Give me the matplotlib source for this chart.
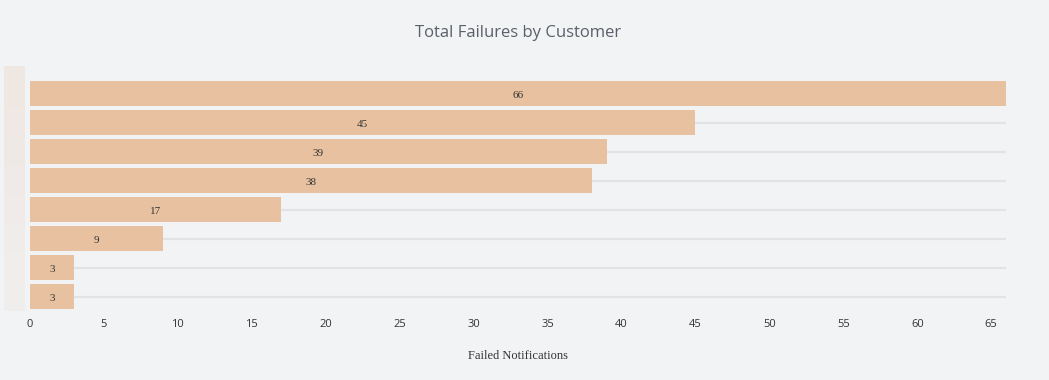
import matplotlib.pyplot as plt
from matplotlib.transforms import blended_transform_factory

# failed notifications per customer (names are not shown in the chart)
customers = ["Customer A", "Customer B", "Customer C", "Customer D",
             "Customer E", "Customer F", "Customer G", "Customer H"]
failures = [66, 45, 39, 38, 17, 9, 3, 3]
x_ticks = [0, 5, 10, 15, 20, 25, 30, 35, 40, 45, 50, 55, 60, 65]

bg = "#f2f3f5"
bar_color = "#e8c2a0"

fig = plt.figure(figsize=(10.49, 3.8), dpi=100, facecolor=bg)
ax = fig.add_axes([30 / 1049, 69 / 380, 976 / 1049, 232 / 380], facecolor=bg)

pos = list(range(len(customers)))[::-1]

# gridlines at each category, behind the bars
for p in pos:
    ax.axhline(p, color="#e2e3e6", lw=1.6, zorder=0)

ax.barh(pos, failures, height=0.88, color=bar_color, zorder=2)

for p, v in zip(pos, failures):
    ax.text(v / 2, p - 0.06, str(v), ha="center", va="center", fontsize=8,
            family="Liberation Serif", color="#333333", zorder=3)

# faint strip on the left where the labels would be
trans = blended_transform_factory(fig.transFigure, ax.transData)
for i, p in enumerate(pos):
    a = 0.3 - 0.025 * i
    ax.add_patch(plt.Rectangle((4 / 1049, p - 0.5), 21 / 1049, 1.0, transform=trans,
                               facecolor="#e8cdb8", alpha=a, lw=0, clip_on=False))
ax.add_patch(plt.Rectangle((4 / 1049, 7.5), 21 / 1049, 0.45, transform=trans,
                           facecolor="#e8cdb8", alpha=0.3, lw=0, clip_on=False))

ax.set_xlim(0, 66)
ax.set_ylim(-0.5, 7.5)
ax.set_xticks(x_ticks)
ax.set_xticklabels([str(t) for t in x_ticks], family="Open Sans", fontsize=8, color="#333333")
ax.set_yticks([])
ax.tick_params(axis="x", length=0, pad=6)
for s in ax.spines.values():
    s.set_visible(False)

ax.set_xlabel("Failed Notifications", family="Liberation Serif", fontsize=9,
              color="#333333", labelpad=14)
fig.text(518 / 1049, 1 - 33 / 380, "Total Failures by Customer", ha="center", va="center",
         family="Open Sans", fontsize=12, color="#5a5f69")

fig.savefig("out.png", dpi=100, facecolor=bg)
